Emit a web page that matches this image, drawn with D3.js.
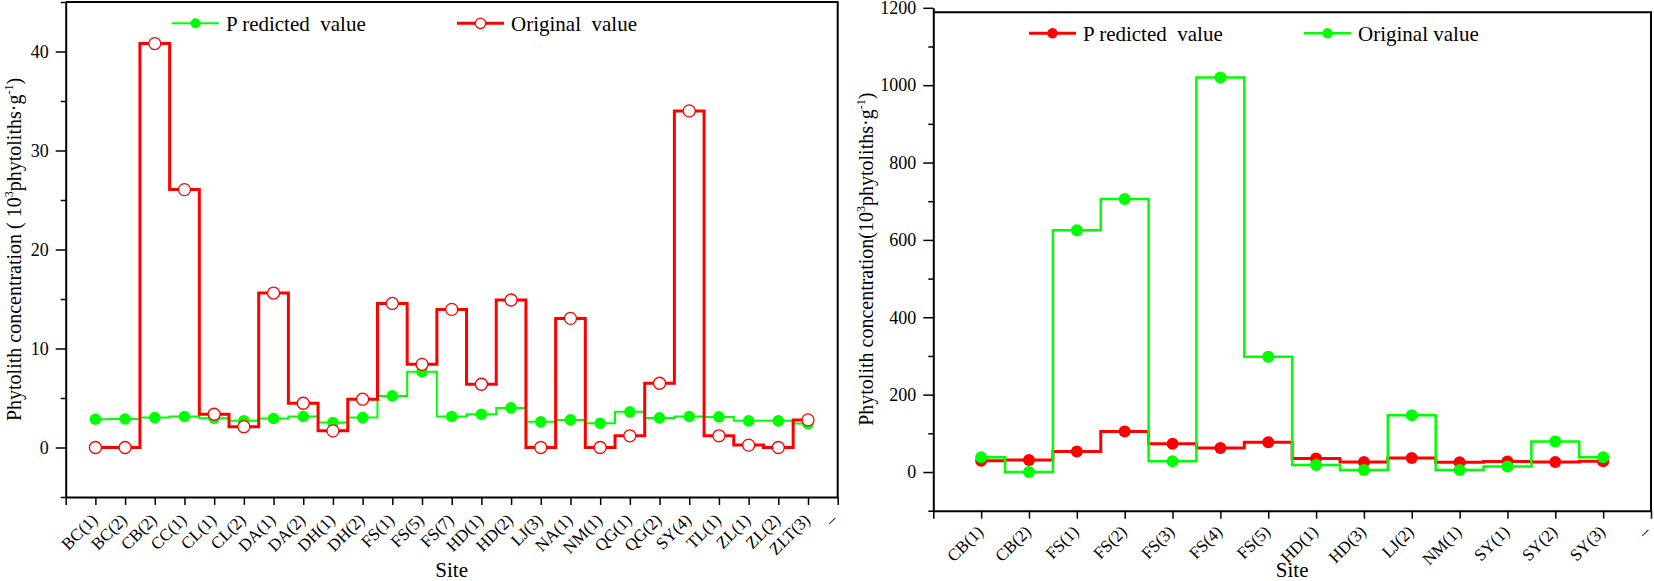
<!DOCTYPE html>
<html>
<head>
<meta charset="utf-8">
<script src="https://cdnjs.cloudflare.com/ajax/libs/d3/7.8.5/d3.min.js"></script>
<style>
    body { margin: 0; background: #fff; }
    svg { display: block; }
    svg text { font-family: "Liberation Serif", "Times New Roman", "DejaVu Serif", serif; }
    .legend text { white-space: pre; }
</style>
</head>
<body>
<svg class="chart" width="1654" height="581"></svg>
<script>

// left panel
const leftSites = ['BC(1)', 'BC(2)', 'CB(2)', 'CC(1)', 'CL(1)', 'CL(2)', 'DA(1)', 'DA(2)', 'DH(1)', 'DH(2)',
    'FS(1)', 'FS(5)', 'FS(7)', 'HD(1)', 'HD(2)', 'LJ(3)', 'NA(1)', 'NM(1)', 'QG(1)', 'QG(2)',
    'SY(4)', 'TL(1)', 'ZL(1)', 'ZL(2)', 'ZLT(3)'];
const leftPredicted = [2.86, 2.88, 3.02, 3.13, 2.96, 2.69, 2.93, 3.13, 2.52, 3.02,
    5.21, 7.66, 3.13, 3.36, 4.0, 2.59, 2.79, 2.45, 3.6, 2.99,
    3.13, 3.09, 2.69, 2.69, 2.42];
const leftOriginal = [0, 0, 40.8, 26.05, 3.36, 2.1, 15.6, 4.47, 1.68, 4.88,
    14.55, 8.4, 13.95, 6.39, 14.9, 0, 13.04, 0, 1.18, 6.49,
    34.0, 1.18, 0.24, 0, 2.79];
const leftMajorTicks = [0, 10, 20, 30, 40];
const leftMinorTicks = [-5, 5, 15, 25, 35, 45];

// right panel
const rightSites = ['CB(1)', 'CB(2)', 'FS(1)', 'FS(2)', 'FS(3)', 'FS(4)', 'FS(5)',
    'HD(1)', 'HD(3)', 'LJ(2)', 'NM(1)', 'SY(1)', 'SY(2)', 'SY(3)'];
const rightPredicted = [29, 31, 53, 105, 73, 62, 77, 35, 26, 36, 25, 27, 26, 28];
const rightOriginal = [38, 0, 625, 706, 28, 1020, 298, 18, 5, 147, 5, 14, 79, 38];
const rightMajorTicks = [0, 200, 400, 600, 800, 1000, 1200];
const rightMinorTicks = [-100, 100, 300, 500, 700, 900, 1100];

const RED = '#ff0000';
const GREEN = '#00ff00';
const SERIF = '"Liberation Serif", "Times New Roman", serif';

const svg = d3.select('svg.chart');

class Panel {

    constructor(cfg) {

        this.cfg = cfg;
        this.g = svg.append('g');

        const n = cfg.sites.length;

        this.x = d3.scaleLinear()
            .domain([0, n + 1])
            .range([cfg.left, cfg.right]);

        this.y = d3.scaleLinear()
            .domain(cfg.domain)
            .range([cfg.bottom, cfg.top]);

        this.drawFrame();
        this.drawYAxis();
        this.drawXAxis();
        cfg.series.forEach(s => this.drawSeries(s));
        this.drawLegend();

    }

    drawFrame() {

        const c = this.cfg;

        this.g.append('path')
            .attr('d', `M${c.left},${c.frameTop}H${c.right}V${c.bottom}`)
            .attr('fill', 'none')
            .attr('stroke', '#000')
            .attr('stroke-width', 2);

    }

    drawYAxis() {

        const c = this.cfg;

        const axis = d3.axisLeft(this.y)
            .tickValues(c.majorTicks)
            .tickFormat(d3.format('d'))
            .tickSize(10)
            .tickPadding(7)
            .tickSizeOuter(0);

        const ga = this.g.append('g')
            .attr('transform', `translate(${c.left},0)`)
            .call(axis)
            .attr('font-family', SERIF)
            .attr('font-size', 18);

        ga.select('.domain').attr('stroke-width', 2);
        ga.selectAll('.tick line').attr('stroke-width', 1.5);
        ga.selectAll('.tick text').attr('fill', '#000');

        const minor = d3.axisLeft(this.y)
            .tickValues(c.minorTicks)
            .tickSize(5)
            .tickFormat('')
            .tickSizeOuter(0);

        const gm = this.g.append('g')
            .attr('transform', `translate(${c.left},0)`)
            .call(minor);

        gm.select('.domain').remove();
        gm.selectAll('.tick line').attr('stroke-width', 1.5);

        // title
        const t = this.g.append('text')
            .attr('transform', `translate(${c.titleX},${(c.top + c.bottom) / 2}) rotate(-90)`)
            .attr('text-anchor', 'middle')
            .attr('font-family', SERIF)
            .attr('font-size', 20)
            .attr('fill', '#000');

        t.append('tspan').text(c.titleStart);
        t.append('tspan').attr('dy', -8).attr('font-size', 12).text('3');
        t.append('tspan').attr('dy', 8).text('phytoliths·g');
        t.append('tspan').attr('dy', -8).attr('font-size', 12).text('-1');
        t.append('tspan').attr('dy', 8).text(')');

    }

    drawXAxis() {

        const c = this.cfg;
        const n = c.sites.length;
        const labels = ['', ...c.sites, '–'];

        const axis = d3.axisBottom(this.x)
            .tickValues(d3.range(0, n + 2))
            .tickSize(8)
            .tickFormat('')
            .tickSizeOuter(0);

        const ga = this.g.append('g')
            .attr('transform', `translate(0,${c.bottom})`)
            .call(axis);

        ga.select('.domain').attr('stroke-width', 2);
        ga.selectAll('.tick line').attr('stroke-width', 1.5);

        this.g.append('g')
            .selectAll('text')
            .data(labels)
            .join('text')
            .attr('transform', (d, i) => `translate(${this.x(i) + (i === n + 1 ? 0 : 3)},${c.bottom + c.labelDy}) rotate(-45)`)
            .attr('text-anchor', 'end')
            .attr('font-family', SERIF)
            .attr('font-size', 17)
            .attr('fill', '#000')
            .text(d => d);

        this.g.append('text')
            .attr('x', (c.left + c.right) / 2)
            .attr('y', c.siteY)
            .attr('text-anchor', 'middle')
            .attr('font-family', SERIF)
            .attr('font-size', 21)
            .attr('fill', '#000')
            .text('Site');

    }

    drawSeries(s) {

        const line = d3.line()
            .x((d, i) => this.x(i + 1))
            .y(d => this.y(d))
            .curve(d3.curveStep);

        this.g.append('path')
            .datum(s.values)
            .attr('d', line)
            .attr('fill', 'none')
            .attr('stroke', s.color)
            .attr('stroke-width', s.width);

        this.g.append('g')
            .selectAll('circle')
            .data(s.values)
            .join('circle')
            .attr('cx', (d, i) => this.x(i + 1))
            .attr('cy', d => this.y(d))
            .attr('r', s.r)
            .attr('fill', s.fill)
            .attr('stroke', s.color)
            .attr('stroke-width', s.open ? 1.3 : 0);

    }

    drawLegend() {

        const c = this.cfg;
        const lg = this.g.append('g').classed('legend', true);

        c.legend.forEach(item => {

            const s = c.series[item.series];

            lg.append('line')
                .attr('x1', item.x)
                .attr('x2', item.x + 47)
                .attr('y1', c.legendY)
                .attr('y2', c.legendY)
                .attr('stroke', s.color)
                .attr('stroke-width', s.width);

            lg.append('circle')
                .attr('cx', item.x + 23.5)
                .attr('cy', c.legendY)
                .attr('r', s.r - 0.8)
                .attr('fill', s.fill)
                .attr('stroke', s.color)
                .attr('stroke-width', s.open ? 1.3 : 0);

            lg.append('text')
                .attr('x', item.x + 54)
                .attr('y', c.legendY + 7.5)
                .attr('font-family', SERIF)
                .attr('font-size', 21)
                .attr('fill', '#000')
                .text(item.label);

        });

    }

}

const leftPanel = new Panel({
    sites: leftSites,
    left: 65.7, right: 837.7, top: 2, bottom: 497, frameTop: 2,
    domain: [-5, 45],
    majorTicks: leftMajorTicks,
    minorTicks: leftMinorTicks,
    titleX: 21,
    titleStart: 'Phytolith concentration ( 10',
    labelDy: 24,
    siteY: 577,
    legendY: 23.3,
    series: [
        { values: leftPredicted, color: GREEN, width: 2, r: 5.8, fill: GREEN, open: false },
        { values: leftOriginal, color: RED, width: 3, r: 6, fill: '#fff', open: true }
    ],
    legend: [
        { series: 0, x: 172, label: 'P redicted  value' },
        { series: 1, x: 457, label: 'Original  value' }
    ]
});

const rightPanel = new Panel({
    sites: rightSites,
    left: 933.3, right: 1651, top: 7.8, bottom: 510.7, frameTop: 12.3,
    domain: [-100, 1200],
    majorTicks: rightMajorTicks,
    minorTicks: rightMinorTicks,
    titleX: 873,
    titleStart: 'Phytolith concentration(10',
    labelDy: 22,
    siteY: 577,
    legendY: 33.3,
    series: [
        { values: rightPredicted, color: RED, width: 3, r: 6, fill: RED, open: false },
        { values: rightOriginal, color: GREEN, width: 2.5, r: 6, fill: GREEN, open: false }
    ],
    legend: [
        { series: 0, x: 1029, label: 'P redicted  value' },
        { series: 1, x: 1304, label: 'Original value' }
    ]
});

</script>
</body>
</html>
